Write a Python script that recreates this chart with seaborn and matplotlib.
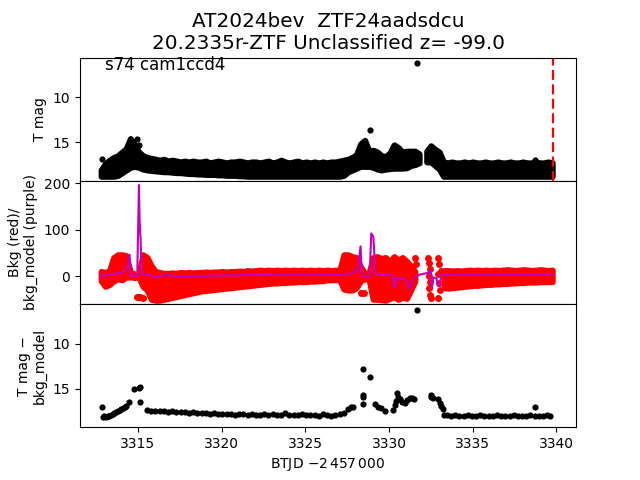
# Light curve summary: TESS mag, background and background-subtracted mag
import seaborn as sns
import matplotlib.pyplot as plt

# --- top panel: T mag (dense band read as bright/faint edges per time step) ---
top_t = [3312.80, 3313.05, 3313.30, 3313.55, 3313.80, 3314.05, 3314.30, 3314.55, 3314.80, 3315.05,
         3315.30, 3315.55, 3315.80, 3316.05, 3316.30, 3316.55, 3316.80, 3317.05, 3317.30, 3317.55,
         3317.80, 3318.05, 3318.30, 3318.55, 3318.80, 3319.05, 3319.30, 3319.55, 3319.80, 3320.05,
         3320.30, 3320.55, 3320.80, 3321.05, 3321.30, 3321.55, 3321.80, 3322.05, 3322.30, 3322.55,
         3322.80, 3323.05, 3323.30, 3323.55, 3323.80, 3324.05, 3324.30, 3324.55, 3324.80, 3325.05,
         3325.30, 3325.55, 3325.80, 3326.05, 3326.30, 3326.55, 3326.80, 3327.05, 3327.30, 3327.55,
         3327.80, 3328.05, 3328.30, 3328.55, 3328.80, 3329.05, 3329.30, 3329.55, 3329.80, 3330.05,
         3330.30, 3330.55, 3330.80, 3331.05, 3331.30, 3331.55, 3331.80,
         3332.25, 3332.50, 3332.75, 3333.00, 3333.25, 3333.50, 3333.75, 3334.00, 3334.25, 3334.50,
         3334.75, 3335.00, 3335.25, 3335.50, 3335.75, 3336.00, 3336.25, 3336.50, 3336.75, 3337.00,
         3337.25, 3337.50, 3337.75, 3338.00, 3338.25, 3338.50, 3338.75, 3339.00, 3339.25, 3339.50,
         3339.75]
top_hi = [18.1, 17.4, 17.0, 16.7, 16.5, 16.1, 15.7, 14.6, 15.3, 16.1,
          16.5, 16.7, 16.8, 16.9, 17.0, 16.9, 17.1, 17.0, 17.1, 17.2,
          17.1, 17.2, 17.1, 17.2, 17.2, 17.1, 17.3, 17.2, 17.1, 17.2,
          17.3, 17.2, 17.2, 17.1, 17.2, 17.3, 17.2, 17.2, 17.3, 17.2,
          17.1, 17.3, 17.2, 17.0, 17.2, 17.3, 17.2, 17.1, 17.3, 17.2,
          17.3, 17.2, 17.3, 17.2, 17.3, 17.2, 17.2, 17.1, 17.0, 16.9,
          16.7, 16.4, 15.2, 14.8, 16.0, 15.9, 16.1, 16.5, 16.6, 16.2,
          15.3, 15.6, 16.1, 16.0, 16.0, 16.0, 16.3,
          16.0, 15.4, 15.8, 16.1, 17.2, 17.3, 17.2, 17.3, 17.3, 17.2,
          17.3, 17.2, 17.3, 17.3, 17.2, 17.3, 17.3, 17.2, 17.3, 17.3,
          17.2, 17.3, 17.3, 17.2, 17.3, 17.3, 17.2, 17.3, 17.3, 17.2,
          17.3]
top_lo = [18.8, 18.8, 18.8, 18.8, 18.7, 18.4, 18.1, 17.8, 17.7, 17.8,
          18.0, 18.1, 18.15, 18.2, 18.25, 18.3, 18.3, 18.35, 18.4, 18.4,
          18.45, 18.5, 18.5, 18.55, 18.55, 18.6, 18.6, 18.6, 18.65, 18.65,
          18.7, 18.7, 18.7, 18.75, 18.75, 18.8, 18.8, 18.8, 18.8, 18.8,
          18.8, 18.8, 18.8, 18.8, 18.8, 18.8, 18.8, 18.8, 18.8, 18.8,
          18.8, 18.8, 18.8, 18.8, 18.8, 18.8, 18.8, 18.8, 18.7, 18.3,
          18.1, 17.9, 17.7, 17.7, 17.7, 17.8, 18.0, 18.1, 18.0, 17.95,
          17.9, 17.9, 17.9, 17.85, 17.6, 17.5, 17.3,
          17.2, 17.2, 17.6, 18.0, 18.8, 18.8, 18.8, 18.8, 18.8, 18.8,
          18.8, 18.8, 18.8, 18.8, 18.8, 18.8, 18.8, 18.8, 18.8, 18.8,
          18.8, 18.8, 18.8, 18.8, 18.8, 18.8, 18.8, 18.8, 18.8, 18.8,
          18.8]
# isolated points above the band
top_out_t = [3312.87, 3314.94, 3315.06, 3328.84, 3331.65, 3338.70]
top_out_mag = [16.9, 14.7, 15.3, 13.6, 6.2, 17.0]

# --- middle panel: background flux (red) and bkg model (purple) ---
mid_t = [3312.80, 3313.05, 3313.30, 3313.55, 3313.80, 3314.05, 3314.30, 3314.55, 3314.80, 3315.05,
         3315.30, 3315.55, 3315.80, 3316.05, 3316.30, 3316.55, 3316.80, 3317.05, 3317.30, 3317.55,
         3317.80, 3318.05, 3318.30, 3318.55, 3318.80, 3319.05, 3319.30, 3319.55, 3319.80, 3320.05,
         3320.30, 3320.55, 3320.80, 3321.05, 3321.30, 3321.55, 3321.80, 3322.05, 3322.30, 3322.55,
         3322.80, 3323.05, 3323.30, 3323.55, 3323.80, 3324.05, 3324.30, 3324.55, 3324.80, 3325.05,
         3325.30, 3325.55, 3325.80, 3326.05, 3326.30, 3326.55, 3326.80, 3327.05, 3327.30, 3327.55,
         3327.80, 3328.05, 3328.30, 3328.55, 3328.80, 3329.05, 3329.30, 3329.55, 3329.80, 3330.05,
         3330.30, 3330.55, 3330.80, 3331.05, 3331.30, 3331.55,
         3333.30, 3333.55, 3333.80, 3334.05, 3334.30, 3334.55, 3334.80, 3335.05, 3335.30, 3335.55,
         3335.80, 3336.05, 3336.30, 3336.55, 3336.80, 3337.05, 3337.30, 3337.55, 3337.80, 3338.05,
         3338.30, 3338.55, 3338.80, 3339.05, 3339.30, 3339.55, 3339.75]
mid_hi = [10, 8, 12, 40, 46, 46, 44, 8, 5, 5,
          46, 40, 22, 10, 8, 6, 6, 7, 6, 8,
          7, 8, 7, 8, 8, 9, 8, 9, 9, 10,
          9, 10, 10, 11, 10, 12, 11, 12, 13, 12,
          13, 12, 13, 12, 13, 12, 13, 12, 13, 12,
          13, 12, 13, 12, 13, 12, 13, 12, 46, 46,
          42, 40, 20, 6, 6, 40, 42, 38, 40, 30,
          42, 35, 40, 32, 22, 10,
          12, 12, 11, 12, 11, 12, 13, 12, 13, 12,
          13, 12, 13, 12, 13, 14, 13, 12, 13, 14,
          13, 12, 13, 14, 13, 12, 13]
mid_lo = [-10, -22, -18, -10, -6, -8, -2, -2, -3, -2,
          -22, -30, -50, -52, -52, -50, -48, -46, -44, -42,
          -40, -38, -36, -34, -32, -31, -30, -29, -28, -27,
          -26, -25, -24, -23, -22, -21, -20, -19, -18, -17,
          -16, -15, -15, -14, -14, -13, -13, -12, -12, -12,
          -11, -11, -10, -10, -8, -8, -8, -8, -28, -30,
          -30, -25, -10, -6, -6, -50, -50, -51, -52, -48,
          -45, -50, -45, -48, -30, -10,
          -25, -26, -25, -24, -23, -22, -21, -20, -20, -19,
          -18, -18, -17, -17, -16, -16, -15, -15, -14, -14,
          -13, -13, -13, -12, -12, -12, -12]
# scattered background points outside the band
mid_dot_t = [3314.93, 3315.05, 3315.15, 3315.28, 3328.35, 3328.50, 3331.55, 3331.62,
             3332.35, 3332.40, 3332.45, 3332.40, 3332.45, 3332.40, 3332.45, 3332.50,
             3332.95, 3333.00, 3332.95, 3333.00, 3333.05, 3332.95, 3333.10]
mid_dot_v = [-45, -46, -45, -47, -37, -37, 39, 25,
             40, 28, 15, 0, -12, -25, -40, -48,
             38, 25, 5, -15, -30, -48, 12]

bkg_t = [3312.75, 3313.51, 3314.10, 3314.37, 3314.50, 3314.55, 3314.96, 3315.06, 3315.10, 3315.16,
         3315.22, 3315.70, 3316.10, 3316.70, 3317.09, 3319.48, 3323.46, 3326.25, 3327.35, 3327.75,
         3328.14, 3328.30, 3328.38, 3328.84, 3328.94, 3329.06, 3329.10, 3329.18, 3330.14, 3330.24,
         3330.34, 3330.44, 3330.63, 3330.83, 3331.03, 3331.23, 3331.37, 3331.57, 3331.83, 3332.43,
         3332.49, 3332.56, 3332.64, 3332.84, 3332.92, 3333.04, 3333.12, 3335.00, 3337.50, 3339.75]
bkg_model = [0.6, 4, 8, 17, 46, 0.6, 0.6, 196, 121, 78,
             3, 3, -3, 4, -1, 1, 3.5, 4, 3, 6,
             13.5, 64, -1, -1, 92, 85, 64, 4, 3, -8,
             -26, -3, -8, -3, -12, -28, -12, -1, 3, 8,
             13.5, -26, -3, -5, -21, -21, 3, 4, 4, 4]

# --- bottom panel: T mag - bkg_model ---
bot_t = [3312.87, 3312.90, 3313.00, 3313.10, 3313.20, 3313.30, 3313.40, 3313.50, 3313.60, 3313.70,
         3313.80, 3313.90, 3314.00, 3314.10, 3314.20, 3314.30, 3314.45, 3314.75, 3315.05, 3315.10,
         3315.10,
         3315.55, 3315.80, 3316.05, 3316.30, 3316.55, 3316.80, 3317.05, 3317.30, 3317.55, 3317.80,
         3318.05, 3318.30, 3318.55, 3318.80, 3319.05, 3319.30, 3319.55, 3319.80, 3320.05, 3320.30,
         3320.55, 3320.80, 3321.05, 3321.30, 3321.55, 3321.80, 3322.05, 3322.30, 3322.55, 3322.80,
         3323.05, 3323.30, 3323.55, 3323.80, 3324.05, 3324.30, 3324.55, 3324.80, 3325.05, 3325.30,
         3325.55, 3325.80, 3326.05, 3326.30, 3326.55, 3326.80, 3327.05, 3327.30,
         3327.55, 3327.70, 3327.85, 3328.45, 3328.45, 3328.45, 3328.45, 3328.84, 3329.14, 3329.35,
         3329.50, 3329.74, 3330.24, 3330.34, 3330.44, 3330.50, 3330.55, 3330.64, 3330.80, 3330.93,
         3331.10, 3331.23, 3331.35, 3331.50, 3331.70, 3332.50, 3332.53, 3332.60, 3332.93, 3333.05,
         3333.12, 3333.20, 3333.30,
         3333.45, 3333.70, 3333.95, 3334.20, 3334.45, 3334.70, 3334.95, 3335.20, 3335.45, 3335.70,
         3335.95, 3336.20, 3336.45, 3336.70, 3336.95, 3337.20, 3337.45, 3337.70, 3337.95, 3338.20,
         3338.45, 3338.70, 3338.70, 3338.95, 3339.20, 3339.45, 3339.60]
bot_mag = [17.1, 18.2, 18.1, 18.2, 18.0, 18.0, 17.9, 17.85, 17.7, 17.6,
           17.5, 17.4, 17.3, 17.2, 17.0, 16.9, 16.5, 15.1, 14.9, 14.8,
           16.5,
           17.4, 17.45, 17.5, 17.55, 17.5, 17.6, 17.55, 17.6, 17.65, 17.6,
           17.7, 17.65, 17.7, 17.75, 17.7, 17.8, 17.75, 17.8, 17.85, 17.8,
           17.85, 17.9, 17.8, 17.85, 17.9, 17.85, 17.9, 17.95, 17.85, 17.9,
           17.8, 17.9, 17.95, 17.7, 17.9, 17.95, 17.9, 17.85, 17.95, 17.9,
           17.95, 18.0, 17.85, 17.9, 18.0, 17.95, 17.85, 17.7,
           17.25, 17.1, 17.0, 12.8, 15.7, 15.9, 16.7, 13.7, 16.75, 17.1,
           17.2, 17.5, 17.4, 16.8, 16.4, 15.55, 15.9, 16.2, 16.5, 16.6,
           16.3, 16.0, 16.1, 16.2, 6.3, 15.7, 15.9, 16.1, 16.2, 16.6,
           16.9, 17.3, 17.9,
           17.95, 18.0, 17.9, 18.0, 18.05, 17.95, 18.0, 18.05, 17.95, 18.0,
           18.05, 18.0, 17.95, 18.05, 18.0, 18.05, 17.95, 18.0, 18.05, 18.0,
           17.95, 17.1, 18.0, 18.05, 18.0, 17.95, 18.05]

t_peak_line = 3339.8


def band(ax, t, hi, lo, color):
    # dense cloud of overlapping points: fill between its edges, split at data gaps;
    # the thick outline of the same colour stands in for the point radius
    start = 0
    for i in range(1, len(t) + 1):
        if i == len(t) or t[i] - t[i - 1] > 0.3:
            ax.fill_between(t[start:i], hi[start:i], lo[start:i], facecolor=color,
                            edgecolor=color, linewidth=4.3, joinstyle='round')
            start = i


fig, axes = plt.subplots(3, 1, sharex=True, figsize=(6.4, 4.8))
plt.subplots_adjust(hspace=0)

# top panel
ax = axes[0]
band(ax, top_t, top_hi, top_lo, 'k')
sns.scatterplot(x=top_out_t, y=top_out_mag, color='k', s=20, linewidth=0, ax=ax)
ax.axvline(t_peak_line, color='r', linestyle=(0, (4.5, 2)), linewidth=1.6)
ax.set_ylim(19.3, 5.6)
ax.set_yticks([10, 15])
ax.set_ylabel("T mag")
ax.text(0.05, 0.9, "s74 cam1ccd4", transform=ax.transAxes, fontsize=12)
ax.set_title("AT2024bev  ZTF24aadsdcu\n20.2335r-ZTF Unclassified z= -99.0", fontsize='x-large')

# middle: background flux + model
ax = axes[1]
band(ax, mid_t, mid_hi, mid_lo, 'r')
sns.scatterplot(x=mid_dot_t, y=mid_dot_v, color='r', s=25, linewidth=0, ax=ax)
sns.lineplot(x=bkg_t, y=bkg_model, color='m', linewidth=1.5, ax=ax)
ax.set_ylim(-60, 205)
ax.set_yticks([0, 100, 200])
ax.set_ylabel("Bkg (red)/\nbkg_model (purple)")

# bottom: background-subtracted magnitude
ax = axes[2]
sns.scatterplot(x=bot_t, y=bot_mag, color='k', s=20, linewidth=0, ax=ax)
ax.set_ylim(19.3, 5.6)
ax.set_yticks([10, 15])
ax.set_ylabel("T mag \u2212\nbkg_model")
ax.set_xlim(3311.54, 3341.17)
ax.set_xlabel(r"BTJD $-2\,457\,000$")

plt.savefig('out.png', dpi=100)
